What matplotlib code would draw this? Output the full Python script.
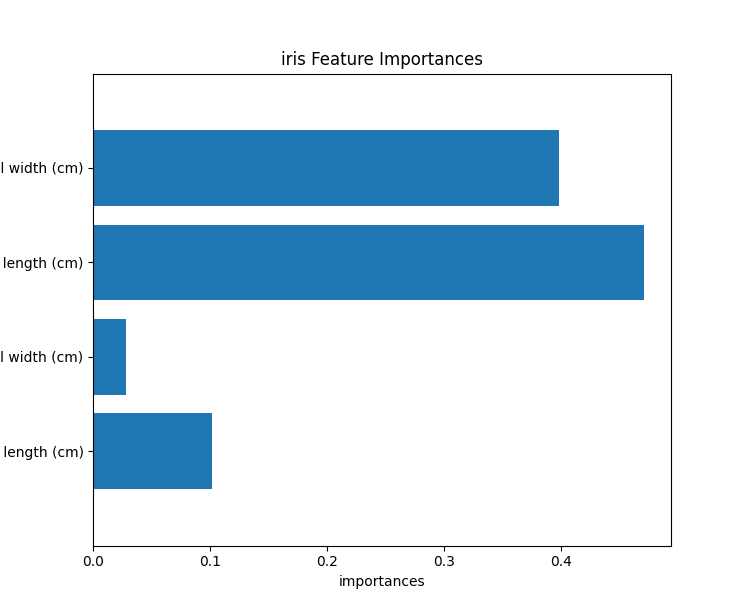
import numpy as np
import matplotlib
matplotlib.use("Agg")
import matplotlib.pyplot as plt

features = ["sepal length (cm)", "sepal width (cm)", "petal length (cm)", "petal width (cm)"]
importances = [0.1017, 0.0282, 0.4710, 0.3985]

fig, ax = plt.subplots(figsize=(7.46, 6.13), dpi=100)
y_pos = np.arange(len(features))
ax.barh(y_pos, importances)
ax.set_yticks(y_pos)
ax.set_yticklabels(features)
ax.set_ylim(-1, len(features))
ax.set_xlabel("importances")
ax.set_title("iris Feature Importances")

fig.savefig("out.png", dpi=100)
